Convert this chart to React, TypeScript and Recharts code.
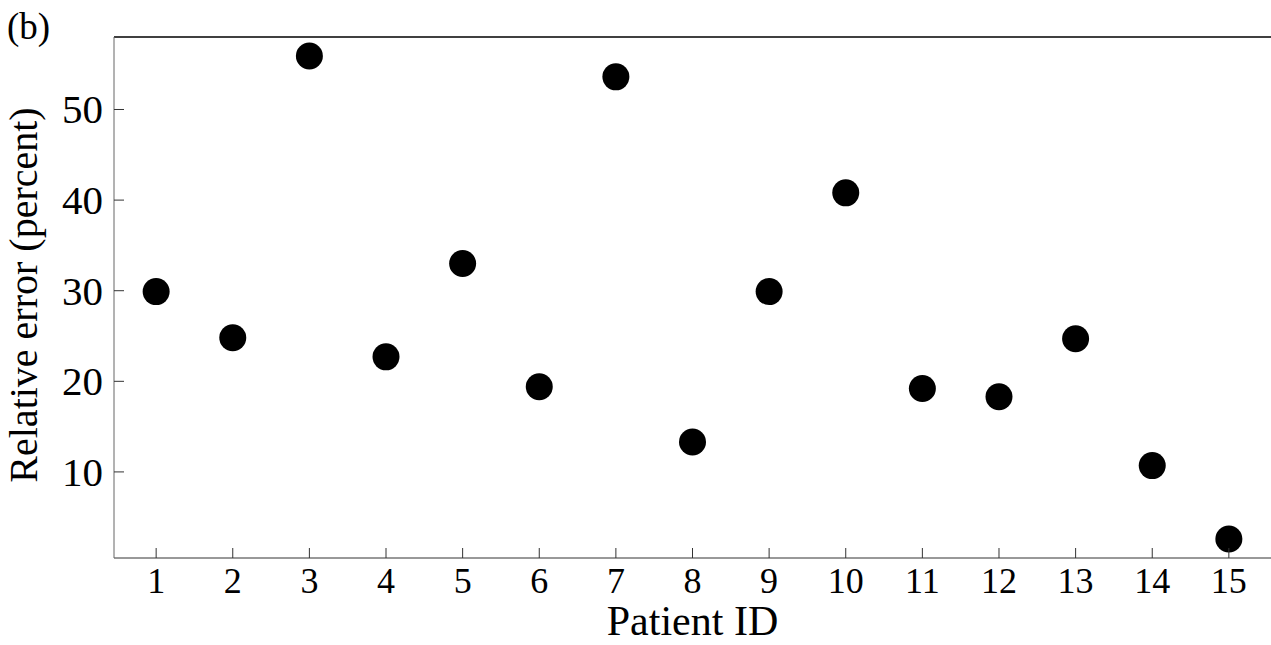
import { ReferenceLine, Scatter, ScatterChart, XAxis, YAxis } from "recharts";

const patientIds = [1, 2, 3, 4, 5, 6, 7, 8, 9, 10, 11, 12, 13, 14, 15];
const relativeError = [29.9, 24.8, 55.9, 22.7, 33.0, 19.4, 53.6, 13.3, 29.9, 40.8, 19.2, 18.3, 24.7, 10.7, 2.6];
const yTicks = [10, 20, 30, 40, 50];

const data = patientIds.map((id, i) => ({ id, err: relativeError[i] }));

const serif = '"Liberation Serif", "Times New Roman", serif';

function XTick(props: any) {
  const { x, y, payload } = props;
  return (
    <g>
      <line x1={x} y1={y} x2={x} y2={y - 10} stroke="#333" />
      <text x={x} y={y + 35} textAnchor="middle" fontSize={36} fontFamily={serif} fill="#000">
        {payload.value}
      </text>
    </g>
  );
}

function YTick(props: any) {
  const { x, y, payload } = props;
  return (
    <g>
      <line x1={x} y1={y} x2={x + 10} y2={y} stroke="#333" />
      <text x={x - 11} y={y + 14} textAnchor="end" fontSize={41} fontFamily={serif} fill="#000">
        {payload.value}
      </text>
    </g>
  );
}

function YLabel() {
  return (
    <g>
      <text x={7} y={39} fontSize={37} fontFamily={serif} fill="#000">
        (b)
      </text>
      <text
        transform="translate(37,295) rotate(-90)"
        textAnchor="middle"
        fontSize={40}
        fontFamily={serif}
        fill="#000"
      >
        Relative error (percent)
      </text>
    </g>
  );
}

export default function App() {
  return (
    <div style={{ position: "absolute", left: 0, top: 0, background: "#fff" }}>
      <ScatterChart width={1271} height={645} margin={{ top: 37, right: 0, bottom: 0, left: 0 }}>
        <XAxis
          type="number"
          dataKey="id"
          domain={[0.45, 15.55]}
          ticks={patientIds}
          allowDataOverflow
          height={87}
          tickSize={0}
          tickMargin={0}
          tickLine={false}
          axisLine={{ stroke: "#333" }}
          tick={<XTick />}
          label={{ value: "Patient ID", position: "insideBottom", offset: 10, fontSize: 42, fontFamily: serif, fill: "#000" }}
        />
        <YAxis
          type="number"
          dataKey="err"
          domain={[0.5, 58]}
          ticks={yTicks}
          allowDataOverflow
          width={114}
          tickSize={0}
          tickMargin={0}
          tickLine={false}
          axisLine={{ stroke: "#666" }}
          tick={<YTick />}
          label={{ content: () => <YLabel /> }}
        />
        <ReferenceLine y={58} stroke="#000" strokeWidth={1.5} />
        <Scatter
          data={data}
          fill="#000"
          isAnimationActive={false}
          shape={(p: any) => <circle cx={p.cx} cy={p.cy} r={13.5} fill="#000" />}
        />
      </ScatterChart>
    </div>
  );
}
